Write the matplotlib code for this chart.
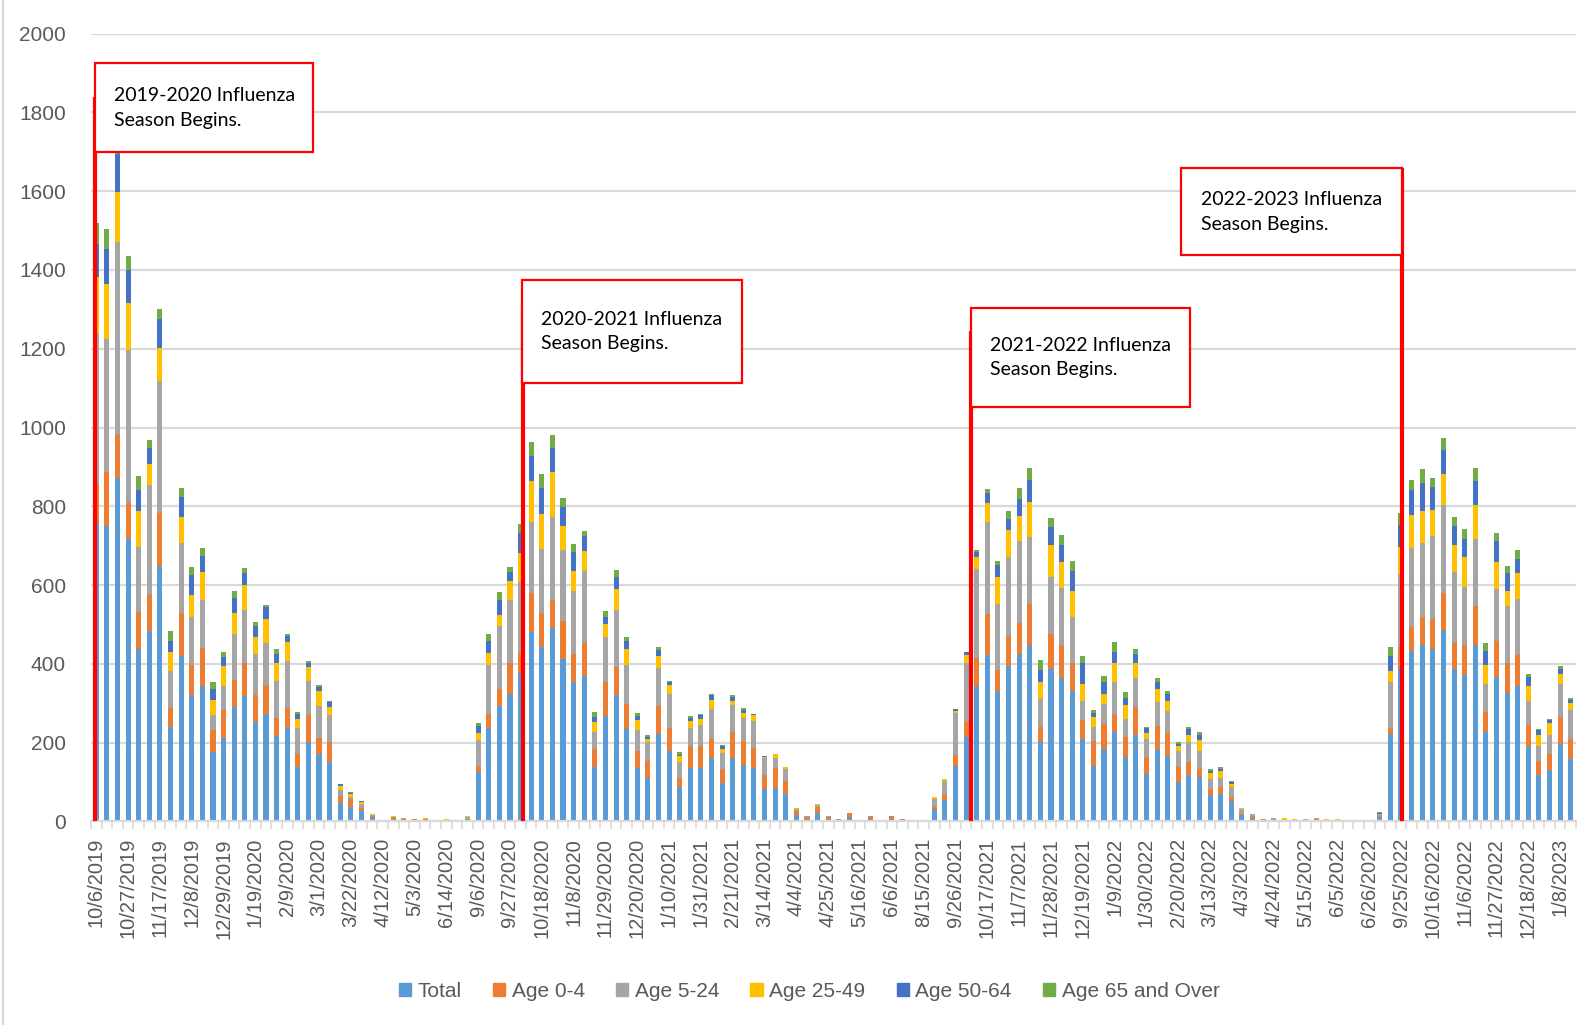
import numpy as np
import matplotlib
matplotlib.use("Agg")
import matplotlib.pyplot as plt
from matplotlib.patches import Patch, Rectangle
from matplotlib.lines import Line2D

plt.rcParams['font.family'] = ['Liberation Sans', 'DejaVu Sans']

# weekly counts, one entry per category on the x axis
total = [759, 751, 872, 717, 438, 483, 648, 241, 421, 322,
         345, 176, 213, 291, 319, 252, 272, 216, 236, 137,
         202, 171, 151, 48, 37, 26, 10, 2, 6, 3,
         3, 4, 0, 2, 0, 5, 126, 238, 292, 323,
         377, 482, 442, 490, 412, 353, 370, 139, 267, 320,
         234, 136, 111, 221, 179, 88, 135, 136, 162, 97,
         161, 144, 136, 83, 86, 69, 17, 5, 22, 6,
         1, 10, 0, 6, 0, 6, 2, 0, 0, 31,
         55, 142, 214, 345, 422, 331, 394, 424, 448, 205,
         386, 363, 331, 209, 142, 184, 228, 164, 219, 120,
         182, 166, 101, 119, 114, 66, 70, 52, 16, 9,
         0, 2, 2, 2, 2, 3, 2, 2, 0, 2,
         0, 12, 223, 392, 433, 448, 437, 487, 386, 371,
         448, 226, 367, 325, 345, 188, 118, 131, 197, 158]

age_0_4 = [98, 136, 109, 91, 93, 91, 136, 48, 108, 76,
           96, 55, 69, 69, 84, 68, 75, 47, 51, 34,
           68, 41, 51, 17, 20, 7, 4, 0, 4, 4,
           2, 1, 0, 0, 0, 1, 16, 36, 45, 78,
           50, 99, 87, 73, 97, 72, 82, 44, 88, 72,
           65, 44, 42, 71, 59, 23, 57, 56, 47, 36,
           67, 59, 51, 34, 50, 33, 10, 7, 14, 6,
           5, 11, 0, 8, 0, 7, 3, 0, 0, 9,
           13, 26, 39, 69, 105, 53, 78, 81, 105, 34,
           91, 85, 71, 49, 63, 63, 43, 51, 71, 44,
           61, 59, 38, 33, 20, 16, 18, 10, 4, 4,
           6, 0, 0, 1, 1, 3, 0, 0, 0, 0,
           0, 3, 15, 52, 61, 72, 78, 94, 68, 77,
           98, 53, 90, 76, 78, 58, 35, 41, 67, 52]

age_5_24 = [384, 338, 490, 390, 166, 279, 335, 93, 179, 120,
            120, 38, 61, 115, 135, 104, 105, 93, 120, 67,
            86, 82, 67, 14, 6, 12, 3, 1, 2, 1,
            1, 0, 0, 1, 0, 6, 65, 123, 160, 162,
            180, 178, 162, 209, 180, 161, 184, 43, 112, 146,
            99, 51, 48, 97, 85, 39, 46, 53, 76, 42,
            68, 59, 68, 43, 26, 30, 4, 2, 5, 2,
            0, 0, 0, 0, 0, 0, 0, 0, 0, 18,
            35, 107, 150, 228, 232, 167, 200, 208, 170, 72,
            144, 144, 118, 48, 35, 50, 83, 44, 74, 45,
            59, 56, 41, 50, 46, 26, 23, 26, 11, 7,
            0, 6, 1, 1, 2, 2, 1, 1, 0, 2,
            0, 3, 117, 185, 199, 187, 209, 222, 178, 146,
            171, 71, 132, 147, 142, 59, 39, 48, 84, 74]

age_25_49 = [141, 140, 126, 118, 90, 55, 84, 48, 65, 58,
             71, 39, 51, 54, 63, 45, 61, 47, 48, 22,
             36, 37, 22, 10, 6, 5, 2, 0, 1, 0,
             1, 3, 0, 2, 0, 1, 18, 31, 28, 47,
             74, 104, 90, 114, 60, 50, 50, 27, 34, 52,
             40, 27, 9, 32, 24, 15, 18, 14, 23, 9,
             11, 14, 15, 4, 9, 6, 3, 0, 3, 0,
             0, 0, 0, 0, 0, 0, 0, 0, 0, 3,
             5, 6, 20, 30, 50, 69, 67, 63, 89, 43,
             82, 67, 65, 43, 25, 27, 48, 37, 37, 15,
             34, 25, 12, 17, 27, 14, 17, 8, 2, 0,
             0, 0, 5, 1, 1, 0, 2, 2, 0, 0,
             0, 2, 27, 68, 85, 82, 67, 79, 69, 78,
             86, 46, 70, 38, 66, 39, 27, 31, 27, 17]

age_50_64 = [83, 87, 98, 83, 54, 41, 72, 29, 50, 49,
             41, 29, 23, 37, 29, 26, 32, 22, 16, 14,
             9, 11, 11, 5, 3, 2, 1, 0, 0, 0,
             0, 0, 0, 0, 0, 1, 18, 29, 36, 22,
             52, 64, 65, 61, 48, 49, 38, 13, 19, 31,
             21, 9, 5, 15, 8, 3, 6, 11, 14, 8,
             10, 7, 2, 2, 0, 0, 0, 0, 0, 0,
             0, 0, 0, 0, 0, 0, 0, 0, 0, 0,
             0, 4, 6, 11, 25, 30, 28, 42, 54, 31,
             45, 44, 52, 52, 11, 29, 29, 18, 25, 12,
             18, 17, 5, 15, 12, 6, 5, 3, 0, 0,
             0, 0, 0, 0, 0, 0, 0, 0, 0, 0,
             0, 2, 38, 56, 64, 70, 57, 60, 49, 44,
             61, 37, 52, 44, 36, 22, 12, 7, 13, 7]

age_65_over = [54, 52, 49, 37, 35, 20, 26, 25, 23, 21,
               22, 18, 12, 18, 13, 11, 4, 13, 6, 4,
               6, 4, 5, 2, 2, 1, 0, 0, 0, 0,
               0, 0, 0, 0, 0, 0, 7, 18, 21, 13,
               22, 37, 36, 34, 24, 19, 14, 13, 15, 18,
               10, 8, 5, 6, 2, 8, 6, 2, 2, 2,
               4, 4, 1, 0, 0, 0, 0, 0, 0, 0,
               0, 0, 0, 0, 0, 0, 0, 0, 0, 0,
               0, 1, 2, 6, 11, 10, 22, 29, 30, 25,
               22, 23, 23, 18, 7, 16, 24, 14, 12, 5,
               10, 8, 5, 7, 7, 4, 5, 3, 0, 0,
               0, 0, 0, 0, 0, 0, 0, 0, 0, 0,
               0, 2, 24, 29, 26, 36, 24, 32, 23, 26,
               32, 20, 21, 19, 23, 9, 4, 2, 6, 6]

# every third week is labelled on the axis
tick_labels = ["10/6/2019", "10/27/2019", "11/17/2019", "12/8/2019", "12/29/2019",
               "1/19/2020", "2/9/2020", "3/1/2020", "3/22/2020", "4/12/2020",
               "5/3/2020", "6/14/2020", "9/6/2020", "9/27/2020", "10/18/2020",
               "11/8/2020", "11/29/2020", "12/20/2020", "1/10/2021", "1/31/2021",
               "2/21/2021", "3/14/2021", "4/4/2021", "4/25/2021", "5/16/2021",
               "6/6/2021", "8/15/2021", "9/26/2021", "10/17/2021", "11/7/2021",
               "11/28/2021", "12/19/2021", "1/9/2022", "1/30/2022", "2/20/2022",
               "3/13/2022", "4/3/2022", "4/24/2022", "5/15/2022", "6/5/2022",
               "6/26/2022", "9/25/2022", "10/16/2022", "11/6/2022", "11/27/2022",
               "12/18/2022", "1/8/2023"]

series_names = ["Total", "Age 0-4", "Age 5-24", "Age 25-49", "Age 50-64", "Age 65 and Over"]
colors = ["#5B9BD5", "#ED7D31", "#A5A5A5", "#FFC000", "#4472C4", "#70AD47"]

season_text = ["2019-2020 Influenza\nSeason Begins.",
               "2020-2021 Influenza\nSeason Begins.",
               "2021-2022 Influenza\nSeason Begins.",
               "2022-2023 Influenza\nSeason Begins."]

grey = "#595959"
light = "#D9D9D9"

fig = plt.figure(figsize=(15.96, 10.25), dpi=100)
ax = fig.add_axes([0.057, 0.1986, 0.9305, 0.7686])

x = np.arange(len(total))
bottom = np.zeros(len(total))
for vals, name, c in zip([total, age_0_4, age_5_24, age_25_49, age_50_64, age_65_over],
                         series_names, colors):
    v = np.array(vals, dtype=float)
    ax.bar(x, v, 0.48, bottom=bottom, color=c, label=name, zorder=2)
    bottom += v

ax.set_xlim(-0.5, len(total) - 0.5)
ax.set_ylim(0, 2000)
ax.set_yticks(np.arange(0, 2001, 200))
ax.yaxis.grid(True, color=light, lw=1.6)
ax.set_axisbelow(True)
for s in ["top", "right", "left"]:
    ax.spines[s].set_visible(False)
ax.spines["bottom"].set_color(light)
ax.spines["bottom"].set_linewidth(1.6)

ax.set_xticks(x[::3])
ax.set_xticklabels(tick_labels, rotation=90)
ax.set_xticks(np.arange(-0.5, len(total), 1), minor=True)
ax.tick_params(axis="x", which="major", length=0, pad=12, labelsize=14.5, labelcolor=grey)
ax.tick_params(axis="x", which="minor", length=6, width=1.2, color=light)
ax.tick_params(axis="y", length=0, pad=18, labelsize=15, labelcolor=grey)

# season start markers: line position, line top, box (x0, x1, y0, y1)
line_x = [-0.15, 40.2, 82.5, 123.05]
line_top = [1839, 1311, 1245, 1659]
boxes = [(-0.15, 20.47, 1699, 1925),
         (40.12, 60.86, 1113, 1374),
         (82.44, 103.08, 1052, 1303),
         (102.3, 123.06, 1438, 1658)]

for lx, lt in zip(line_x, line_top):
    ax.plot([lx, lx], [0, lt], color="#FF0000", lw=3, zorder=5, solid_capstyle="butt",
            clip_on=False)

for (x0, x1, y0, y1), txt in zip(boxes, season_text):
    ax.add_patch(Rectangle((x0, y0), x1 - x0, y1 - y0, facecolor="white",
                           edgecolor="#FF0000", lw=1.6, zorder=6, clip_on=False))
    ax.text(x0 + 1.85, (y0 + y1) / 2, txt, ha="left", va="center", fontsize=14,
            family=["Lato", "DejaVu Sans"], color="black", linespacing=1.55, zorder=7)

handles = [Patch(facecolor=c, edgecolor=c) for c in colors]
leg = fig.legend(handles, series_names, loc="center", bbox_to_anchor=(0.507, 0.033),
                 ncol=6, frameon=False, fontsize=15, handlelength=0.6, handleheight=0.6,
                 handletextpad=0.3, columnspacing=1.5)
for t in leg.get_texts():
    t.set_color(grey)

# chart area border on the left
fig.add_artist(Line2D([0.0016, 0.0016], [0, 1], transform=fig.transFigure, color=light, lw=1.5))

fig.savefig("out.png", dpi=100)
